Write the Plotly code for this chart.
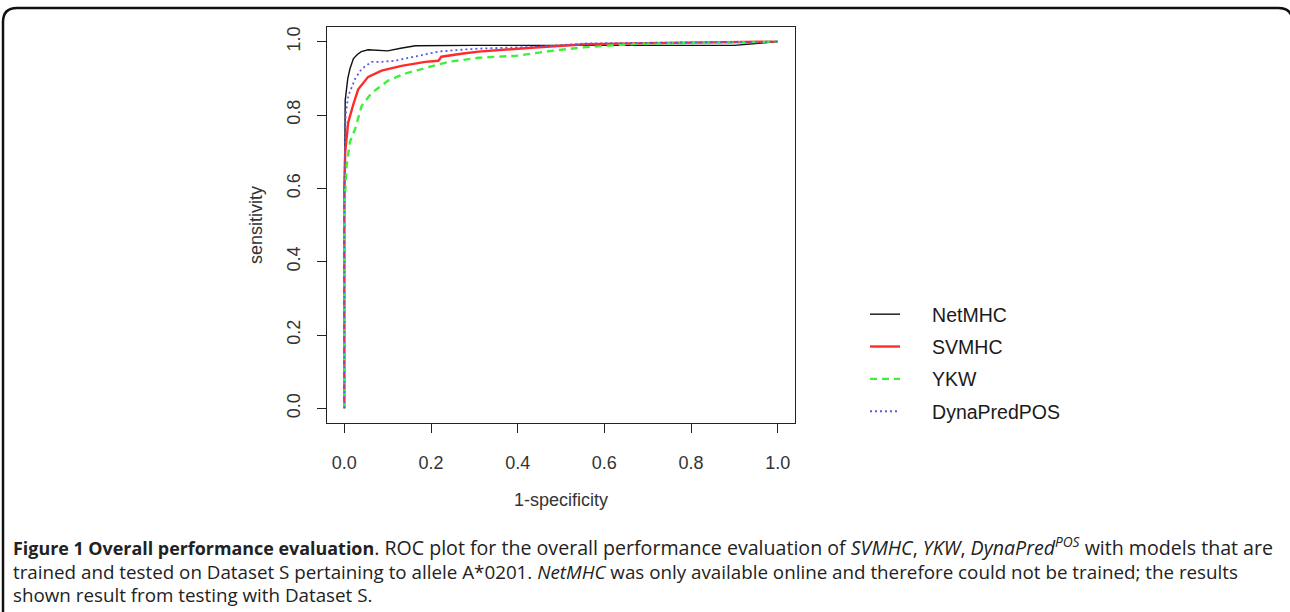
import plotly.graph_objects as go

# ---- data ----
series_names = ["NetMHC", "SVMHC", "YKW", "DynaPredPOS"]

netmhc_fpr = [0, 0, 0.002, 0.005, 0.008, 0.013, 0.021, 0.030, 0.039, 0.055, 0.080, 0.100, 0.130, 0.164, 0.30, 0.50, 0.70, 0.90, 0.95, 1.0]
netmhc_tpr = [0, 0.50, 0.840, 0.866, 0.900, 0.926, 0.954, 0.965, 0.973, 0.978, 0.976, 0.975, 0.982, 0.989, 0.990, 0.990, 0.990, 0.990, 0.995, 1.0]

svmhc_fpr = [0, 0, 0.002, 0.009, 0.021, 0.032, 0.055, 0.086, 0.132, 0.187, 0.217, 0.224, 0.270, 0.310, 0.440, 0.557, 0.70, 0.85, 1.0]
svmhc_tpr = [0, 0.60, 0.700, 0.780, 0.830, 0.870, 0.904, 0.921, 0.934, 0.945, 0.948, 0.959, 0.967, 0.973, 0.984, 0.993, 0.996, 0.998, 1.0]

ykw_fpr = [0, 0, 0.005, 0.013, 0.025, 0.032, 0.040, 0.063, 0.100, 0.140, 0.194, 0.240, 0.310, 0.400, 0.478, 0.557, 0.672, 0.80, 1.0]
ykw_tpr = [0, 0.55, 0.660, 0.727, 0.762, 0.790, 0.825, 0.860, 0.893, 0.913, 0.930, 0.945, 0.956, 0.962, 0.975, 0.985, 0.994, 0.997, 1.0]

dyna_fpr = [0, 0, 0.003, 0.009, 0.025, 0.040, 0.063, 0.086, 0.117, 0.164, 0.217, 0.270, 0.310, 0.440, 0.557, 0.70, 1.0]
dyna_tpr = [0, 0.60, 0.800, 0.852, 0.899, 0.926, 0.945, 0.945, 0.948, 0.959, 0.973, 0.978, 0.981, 0.986, 0.995, 0.997, 1.0]

tick_vals = [0.0, 0.2, 0.4, 0.6, 0.8, 1.0]
tick_text = ["0.0", "0.2", "0.4", "0.6", "0.8", "1.0"]

caption_lines = [
    "<span style='font-size:19.6px'><span style='font-size:17.9px'><b>Figure 1 Overall performance evaluation</b></span>. "
    "ROC plot for the overall performance evaluation of "
    "<i>SVMHC</i>, <i>YKW</i>, <i>DynaPred<sup>POS</sup></i> with models that are</span>",
    "<span style='font-size:18.8px'>trained and tested on Dataset S pertaining to allele A*0201. <i>NetMHC</i> was only available online "
    "and therefore could not be trained; the results</span>",
    "<span style='font-size:18.8px'>shown result from testing with Dataset S.</span>",
]

W, H = 1290, 612
AX_FONT = "Liberation Sans, Arial, sans-serif"


def px(x):  # pixel -> paper x
    return x / W


def py(y):  # pixel -> paper y
    return 1 - y / H


fig = go.Figure()
styles = [
    dict(color="#111111", width=1.4, dash="solid"),
    dict(color="#ff2a2a", width=2.4, dash="solid"),
    dict(color="#3cf03c", width=2.4, dash="7px,5px"),
    dict(color="#5a5ae6", width=1.8, dash="2px,3px"),
]
xs = [netmhc_fpr, svmhc_fpr, ykw_fpr, dyna_fpr]
ys = [netmhc_tpr, svmhc_tpr, ykw_tpr, dyna_tpr]
for name, x, y, st in zip(series_names, xs, ys, styles):
    fig.add_trace(go.Scatter(x=x, y=y, mode="lines", name="&nbsp;&nbsp;&nbsp;&nbsp;&nbsp;" + name, line=st,
                             legendgroup=name, showlegend=True))

# plot frame in pixels: x 327..795, y 27..423
axis_common = dict(
    range=[-0.04, 1.04], tickmode="array", tickvals=tick_vals, ticktext=tick_text,
    showline=True, mirror=True, linecolor="#222222", linewidth=1.2,
    ticks="outside", ticklen=9, tickwidth=1.2, tickcolor="#222222",
    showgrid=False, zeroline=False,
    tickfont=dict(family=AX_FONT, size=18, color="#333333"),
)
fig.update_layout(
    width=W, height=H, margin=dict(l=0, r=0, t=0, b=0),
    paper_bgcolor="white", plot_bgcolor="white",
    xaxis=dict(domain=[px(327), px(795)], ticklabelstandoff=14,
               title=dict(text="1-specificity", font=dict(family=AX_FONT, size=18, color="#333333"), standoff=21),
               **axis_common),
    yaxis=dict(domain=[py(423), py(27)], tickangle=-90, ticklabelstandoff=10,
               title=dict(text="sensitivity", font=dict(family=AX_FONT, size=18, color="#333333"), standoff=16),
               **axis_common),
    legend=dict(x=px(865), y=py(295), xanchor="left", yanchor="top",
                font=dict(family=AX_FONT, size=19.5, color="#1a1a1a"),
                traceorder="grouped", tracegroupgap=4, bgcolor="rgba(0,0,0,0)"),
    showlegend=True,
)

# caption (one multi-line text block)
fig.add_annotation(x=px(11), y=py(570), xref="paper", yref="paper", text="<br>".join(caption_lines),
                   showarrow=False, xanchor="left", yanchor="middle", align="left",
                   font=dict(family="Open Sans, sans-serif", size=18.1, color="#222222"))

# rounded border around the figure panel (right and bottom edges run just off the page)
L, T, R, B, r = px(3), py(8), px(1292.5), py(630), 14
rx, ry = r / W, r / H
path = (f"M {L},{B + ry} L {L},{T - ry} Q {L},{T} {L + rx},{T} "
        f"L {R - rx},{T} Q {R},{T} {R},{T - ry} L {R},{B + ry} Q {R},{B} {R - rx},{B} "
        f"L {L + rx},{B} Q {L},{B} {L},{B + ry} Z")
fig.add_shape(type="path", path=path, xref="paper", yref="paper",
              line=dict(color="#111111", width=2.5), fillcolor="rgba(0,0,0,0)")

fig.write_html("out.html", config={"displayModeBar": False},
               post_script="document.body.style.margin='0';document.body.style.overflow='hidden';")
